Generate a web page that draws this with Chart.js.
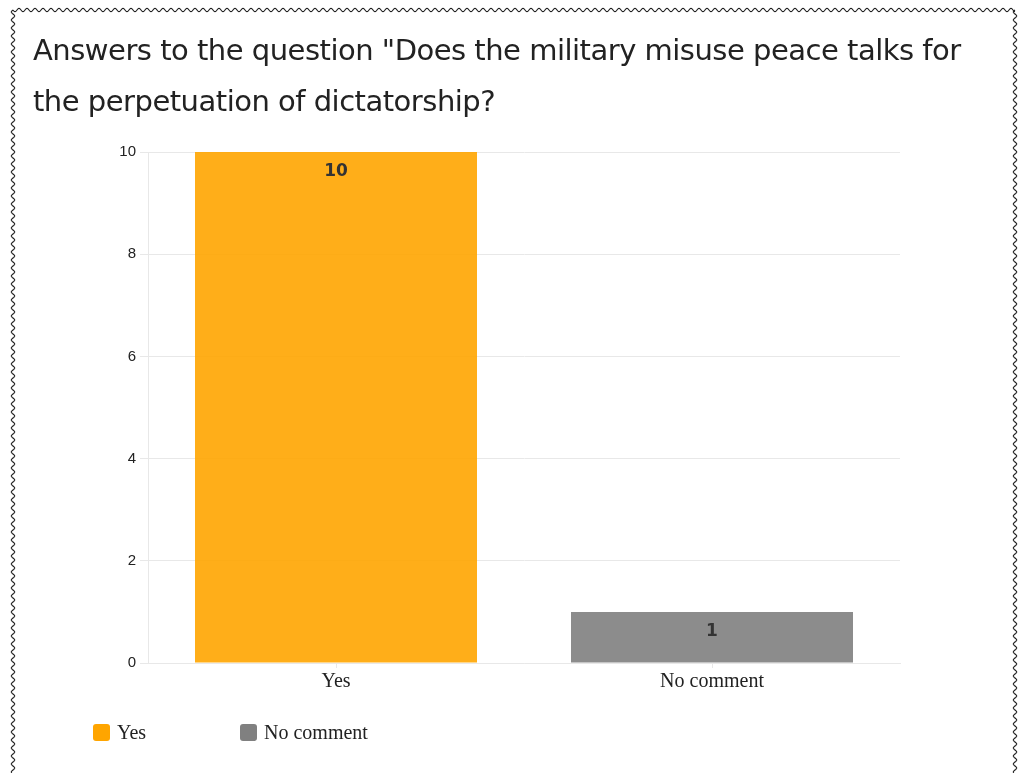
<!DOCTYPE html>
<html>
<head>
<meta charset="utf-8">
<title>Peace talks survey</title>
<script src="https://cdn.jsdelivr.net/npm/chart.js@4.4.0/dist/chart.umd.min.js"></script>
<style>
  body { margin: 0; background: #fff; }
  #wrap { position: absolute; left: 0; top: 0; width: 1019px; height: 773px; }
  #frame { position: absolute; left: 0; top: 0; pointer-events: none; }
  #title {
    position: absolute; left: 33px; top: 25px; margin: 0;
    font-family: "DejaVu Sans", Verdana, sans-serif; font-weight: normal;
    font-size: 29px; letter-spacing: -0.5px; line-height: 51px; color: #222; white-space: nowrap;
  }
  #legend {
    position: absolute; left: 93px; top: 721px; display: flex;
    font-family: "Liberation Serif", "Times New Roman", serif; font-size: 20px; color: #222;
  }
  #legend .item { display: flex; align-items: center; width: 147px; }
  #legend .box { width: 17px; height: 17px; border-radius: 3px; margin-right: 7px; }
</style>
</head>
<body>
<div id="wrap">
  <canvas id="answersChart" width="1019" height="773"></canvas>
</div>
<h1 id="title"></h1>
<svg id="frame" width="1019" height="773"></svg>
<div id="legend"></div>

<script>
const titleLines = ['Answers to the question "Does the military misuse peace talks for', 'the perpetuation of dictatorship?'];
const categories = ['Yes', 'No comment'];
const answers = [10, 1];
const barColours = ['rgba(255, 165, 0, 0.9)', 'rgba(128, 128, 128, 0.9)'];
const legendColours = ['#FFA500', '#808080'];

document.getElementById('title').innerHTML = titleLines.join('<br>');

// curly page border (top, left, right)
function wavy(x1, y1, x2, y2) {
    const len = Math.hypot(x2 - x1, y2 - y1);
    const ux = (x2 - x1) / len, uy = (y2 - y1) / len;
    const nx = -uy, ny = ux;
    const period = 8, amp = 1.7;
    let d = '';
    for (let t = 0; t <= len; t += 0.5) {
        const off = amp * Math.sin(t / period * 2 * Math.PI);
        const x = x1 + ux * t + nx * off, y = y1 + uy * t + ny * off;
        d += (t === 0 ? 'M' : 'L') + x.toFixed(2) + ' ' + y.toFixed(2) + ' ';
    }
    return d;
}
const svg = document.getElementById('frame');
[[13, 10, 1015, 10], [13, 10, 13, 773], [1015, 10, 1015, 773]].forEach(function (p) {
    const path = document.createElementNS('http://www.w3.org/2000/svg', 'path');
    path.setAttribute('d', wavy(p[0], p[1], p[2], p[3]));
    path.setAttribute('fill', 'none');
    path.setAttribute('stroke', '#222');
    path.setAttribute('stroke-width', '1.1');
    svg.appendChild(path);
});

// legend
const legend = document.getElementById('legend');
categories.forEach(function (c, i) {
    const item = document.createElement('div');
    item.className = 'item';
    item.innerHTML = '<span class="box" style="background:' + legendColours[i] + '"></span><span>' + c + '</span>';
    legend.appendChild(item);
});

const valueLabels = {
    id: 'valueLabels',
    afterDatasetsDraw(chart) {
        const ctx = chart.ctx;
        const meta = chart.getDatasetMeta(0);
        ctx.save();
        ctx.font = 'bold 17px "DejaVu Sans", Verdana, sans-serif';
        ctx.fillStyle = '#333';
        ctx.textAlign = 'center';
        ctx.textBaseline = 'middle';
        meta.data.forEach(function (bar, i) {
            ctx.fillText(String(answers[i]), bar.x, bar.y + 20);
        });
        ctx.restore();
    }
};

new Chart(document.getElementById('answersChart').getContext('2d'), {
    type: 'bar',
    data: {
        labels: categories,
        datasets: [{
            label: 'Answers',
            data: answers,
            backgroundColor: barColours,
            barPercentage: 0.75,
            categoryPercentage: 1
        }]
    },
    options: {
        responsive: false,
        animation: false,
        layout: { padding: { left: 33, right: 119, top: 152, bottom: 77 } },
        scales: {
            y: {
                min: 0,
                max: 10,
                ticks: {
                    stepSize: 2,
                    color: '#222',
                    padding: 4,
                    font: { family: '"Liberation Sans", Arial, sans-serif', size: 15 }
                },
                grid: { color: '#e8e8e8', tickLength: 8 },
                border: { color: '#e8e8e8' },
                afterFit: function (scale) { scale.width = 115; }
            },
            x: {
                ticks: {
                    color: '#222',
                    padding: 2,
                    font: { family: '"Liberation Serif", "Times New Roman", serif', size: 20 }
                },
                grid: { drawOnChartArea: false, offset: false, color: '#e8e8e8', tickLength: 5 },
                border: { color: '#e8e8e8' }
            }
        },
        plugins: {
            legend: { display: false },
            tooltip: { enabled: false },
            title: { display: false }
        }
    },
    plugins: [valueLabels]
});
</script>
</body>
</html>
